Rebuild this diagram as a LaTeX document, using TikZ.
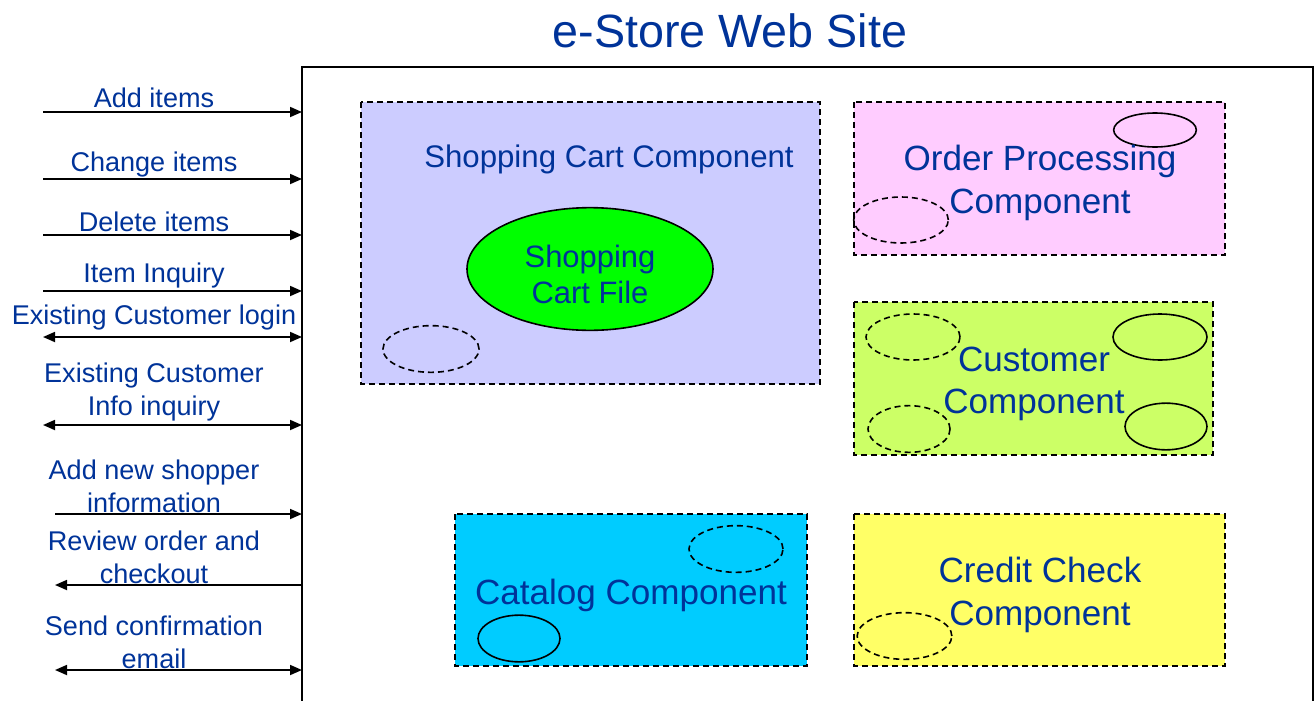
\documentclass[tikz,border=0pt]{standalone}
\usepackage{fontspec}
\setmainfont{Liberation Sans}
\usetikzlibrary{arrows.meta,shapes.geometric}
\definecolor{txt}{RGB}{0,51,153}
\definecolor{cartbg}{RGB}{204,204,255}
\definecolor{orderbg}{RGB}{255,204,255}
\definecolor{custbg}{RGB}{204,255,102}
\definecolor{catbg}{RGB}{0,204,255}
\definecolor{creditbg}{RGB}{255,255,102}
\definecolor{filegreen}{RGB}{0,255,0}
\begin{document}
\begin{tikzpicture}[x=0.75pt,y=-0.75pt,
  >={Triangle[length=9pt,width=7.5pt]},
  lbl/.style={text=txt,font=\fontsize{20.3}{25}\selectfont,align=center,inner sep=0pt},
  ctext/.style={text=txt,font=\fontsize{26.3}{32}\selectfont,align=center,inner sep=0pt},
  comp/.style={draw=black,line width=1.2pt,dash pattern=on 4.5pt off 3pt},
  port/.style={ellipse,draw=black,line width=1.2pt,inner sep=0pt},
  dport/.style={port,dash pattern=on 4.5pt off 3pt},
  flow/.style={line width=1.3pt}]
\clip (0,0) rectangle (1314,700);
% title
\node[text=txt,font=\fontsize{35}{42}\selectfont,inner sep=0pt] (title) at (730,31) {e-Store Web Site};
% frame
\draw[line width=1.5pt] (302,720) -- (302,67) -- (1313,67) -- (1313,720);
% components
\draw[comp,fill=cartbg] (361,102) rectangle (820,384);
\draw[comp,fill=orderbg] (854,102) rectangle (1225,255);
\draw[comp,fill=custbg] (854,302) rectangle (1213,455);
\draw[comp,fill=catbg] (455,514) rectangle (807,666);
\draw[comp,fill=creditbg] (854,514) rectangle (1225,666);
% shopping cart
\node[ctext,font=\fontsize{23.4}{28}\selectfont] (cart) at (609,159) {Shopping Cart Component};
\node[port,fill=filegreen,minimum width=184.5pt,minimum height=92pt] (file) at (590,269) {};
\node[ctext,font=\fontsize{23.2}{27}\selectfont] (filet) at (590,274) {Shopping\\Cart File};
\node[dport,minimum width=72pt,minimum height=35pt] (cp1) at (431,349) {};
% order processing
\node[port,minimum width=62pt,minimum height=25.5pt] (op1) at (1155,130) {};
\node[ctext] (order) at (1040,183) {Order Processing\\Component};
\node[dport,minimum width=71pt,minimum height=34.5pt] (op2) at (901,220) {};
% customer
\node[dport,minimum width=70.5pt,minimum height=34.5pt] (cu1) at (913,337) {};
\node[dport,minimum width=61.5pt,minimum height=35pt] (cu2) at (909,429) {};
\node[port,minimum width=70.5pt,minimum height=34.5pt] (cu3) at (1160,337) {};
\node[port,minimum width=61.5pt,minimum height=35pt] (cu4) at (1166,426.5) {};
\node[ctext] (cust) at (1034,384) {Customer\\Component};
% catalog
\node[dport,minimum width=70.5pt,minimum height=35pt] (ca1) at (736,549) {};
\node[port,minimum width=61.5pt,minimum height=35pt] (ca2) at (519,638.5) {};
\node[ctext] (cat) at (631,595) {Catalog Component};
% credit check
\node[ctext] (credit) at (1040,595) {Credit Check\\Component};
\node[dport,minimum width=71pt,minimum height=35pt] (cc1) at (904.5,636) {};
% left flows
\coordinate (a1) at (43,112);   \coordinate (b1) at (302,112);
\coordinate (a2) at (43,179);   \coordinate (b2) at (302,179);
\coordinate (a3) at (43,235);   \coordinate (b3) at (302,235);
\coordinate (a4) at (43,291);   \coordinate (b4) at (302,291);
\coordinate (a5) at (43,337);   \coordinate (b5) at (302,337);
\coordinate (a6) at (43,425);   \coordinate (b6) at (302,425);
\coordinate (a7) at (55,514);   \coordinate (b7) at (302,514);
\coordinate (a8) at (55,585);   \coordinate (b8) at (302,585);
\coordinate (a9) at (55,670);   \coordinate (b9) at (302,670);
\draw[flow,->] (a1) -- (b1);
\draw[flow,->] (a2) -- (b2);
\draw[flow,->] (a3) -- (b3);
\draw[flow,->] (a4) -- (b4);
\draw[flow,<->] (a5) -- (b5);
\draw[flow,<->] (a6) -- (b6);
\draw[flow,->] (a7) -- (b7);
\draw[flow,<-] (a8) -- (b8);
\draw[flow,<->] (a9) -- (b9);
\node[lbl] (l1) at (154,98) {Add items};
\node[lbl] (l2) at (154,164) {Change items};
\node[lbl] (l3) at (154,222) {Delete items};
\node[lbl] (l4) at (154,275) {Item Inquiry};
\node[lbl] (l5) at (154,317) {Existing Customer login};
\node[lbl] (l6) at (154,392) {Existing Customer\\Info inquiry};
\node[lbl] (l7) at (154,486) {Add new shopper\\information};
\node[lbl] (l8) at (154,557) {Review order and\\checkout};
\node[lbl] (l9) at (154,642) {Send confirmation\\email};
\end{tikzpicture}
\end{document}
